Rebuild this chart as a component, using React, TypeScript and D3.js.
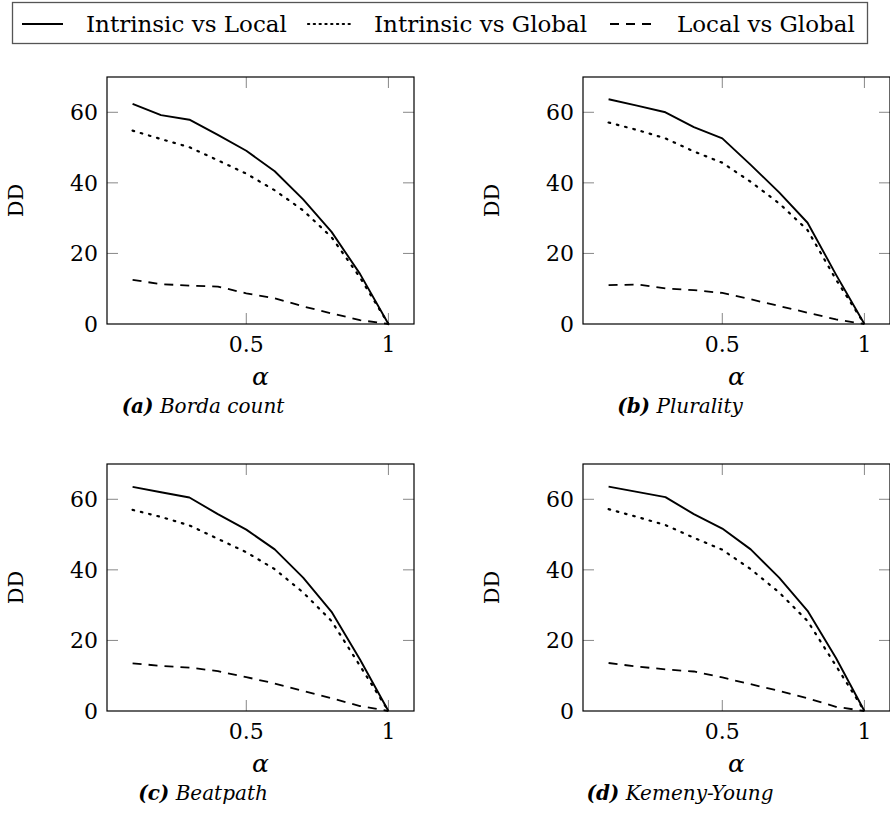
import * as d3 from "d3";

// alpha values shared by all four panels
const alphas = [0.1, 0.2, 0.3, 0.4, 0.5, 0.6, 0.7, 0.8, 0.9, 1.0];

const bordaIL = [62.4, 59.2, 57.9, 53.6, 49.1, 43.3, 35.3, 26.1, 14.2, 0];
const bordaIG = [54.8, 52.4, 50.1, 46.4, 42.6, 37.9, 32.2, 24.6, 13.2, 0];
const bordaLG = [12.5, 11.3, 10.9, 10.6, 8.7, 7.3, 5.0, 3.0, 1.1, 0];

const pluralityIL = [63.7, 61.9, 60.0, 55.8, 52.6, 45.1, 37.3, 28.7, 14.0, 0];
const pluralityIG = [57.1, 55.0, 52.6, 48.9, 45.7, 40.3, 34.2, 26.6, 12.6, 0];
const pluralityLG = [11.0, 11.2, 10.1, 9.6, 8.8, 7.0, 5.1, 3.2, 1.3, 0];

const beatpathIL = [63.5, 62.0, 60.5, 55.8, 51.4, 45.8, 37.8, 28.1, 14.6, 0];
const beatpathIG = [57.0, 55.0, 52.6, 48.8, 45.0, 40.2, 33.6, 25.5, 12.8, 0];
const beatpathLG = [13.5, 12.8, 12.3, 11.3, 9.6, 7.8, 5.7, 3.6, 1.4, 0];

const kemenyIL = [63.6, 62.1, 60.6, 55.8, 51.7, 45.8, 37.8, 28.4, 15.0, 0];
const kemenyIG = [57.2, 55.0, 52.7, 49.1, 45.7, 40.2, 33.6, 25.5, 12.8, 0];
const kemenyLG = [13.6, 12.6, 11.8, 11.2, 9.5, 7.6, 5.7, 3.6, 1.2, 0];

const seriesNames = ["Intrinsic vs Local", "Intrinsic vs Global", "Local vs Global"];
const xTicks = [0.5, 1];
const yTicks = [0, 20, 40, 60];

const panels = [
  { tag: "(a)", name: "Borda count", series: [bordaIL, bordaIG, bordaLG] },
  { tag: "(b)", name: "Plurality", series: [pluralityIL, pluralityIG, pluralityLG] },
  { tag: "(c)", name: "Beatpath", series: [beatpathIL, beatpathIG, beatpathLG] },
  { tag: "(d)", name: "Kemeny-Young", series: [kemenyIL, kemenyIG, kemenyLG] },
];

const W = 890;
const H = 823;
const FONT = "'DejaVu Serif', serif";
const FS = 22;

// line styles: solid, dotted, dashed
const dashes = [null, "1.6 6.9", "9 7"];
const widths = [1.9, 2.2, 1.8];

const plotW = 307;
const plotH = 247;
const lefts = [107, 583];
const tops = [77, 464];

function Panel({ panel, x0, y0, capX }) {
  const x = d3.scaleLinear().domain([0.01, 1.09]).range([0, plotW]);
  const y = d3.scaleLinear().domain([0, 70]).range([plotH, 0]);
  const line = d3
    .line<number>()
    .x((_, i) => x(alphas[i]))
    .y((d) => y(d));

  return (
    <g transform={`translate(${x0},${y0})`}>
      {/* ticks, inside on both sides */}
      {yTicks.slice(1).map((t) => (
        <g key={"yt" + t} stroke="#888" strokeWidth={1}>
          <line x1={0} x2={11} y1={y(t)} y2={y(t)} />
          <line x1={plotW - 11} x2={plotW} y1={y(t)} y2={y(t)} />
        </g>
      ))}
      {xTicks.map((t) => (
        <g key={"xt" + t} stroke="#888" strokeWidth={1}>
          <line x1={x(t)} x2={x(t)} y1={0} y2={11} />
          <line x1={x(t)} x2={x(t)} y1={plotH - 11} y2={plotH} />
        </g>
      ))}
      {panel.series.map((s, i) => (
        <path
          key={i}
          d={line(s) || ""}
          fill="none"
          stroke="#000"
          strokeWidth={widths[i]}
          strokeDasharray={dashes[i] || undefined}
          strokeLinecap={i === 1 ? "round" : "butt"}
          strokeLinejoin="round"
        />
      ))}
      <rect x={0} y={0} width={plotW} height={plotH} fill="none" stroke="#000" strokeWidth={1.2} />
      {yTicks.map((t) => (
        <text key={"yl" + t} x={-9} y={y(t)} dy="0.36em" textAnchor="end" fontSize={FS}>
          {t}
        </text>
      ))}
      {xTicks.map((t) => (
        <text key={"xl" + t} x={x(t)} y={plotH + 28} textAnchor="middle" fontSize={FS}>
          {t}
        </text>
      ))}
      <text x={plotW / 2} y={plotH + 61} textAnchor="middle" fontSize={FS + 3} fontStyle="italic">
        α
      </text>
      <text
        transform={`translate(${-84},${plotH / 2}) rotate(-90)`}
        textAnchor="middle"
        fontSize={FS - 1}
      >
        DD
      </text>
      <text x={capX - x0} y={plotH + 89} textAnchor="middle" fontSize={FS - 2} fontStyle="italic">
        <tspan fontWeight="bold">{panel.tag}</tspan>
        <tspan> {panel.name}</tspan>
      </text>
    </g>
  );
}

function Legend() {
  const samples = [22, 308, 610];
  const labels = [86, 374, 677];
  const ly = 24;
  return (
    <g>
      <rect x={12.5} y={2.5} width={855} height={41} fill="#fff" stroke="#555" strokeWidth={1.3} />
      {seriesNames.map((n, i) => (
        <g key={n}>
          <line
            x1={samples[i]}
            x2={samples[i] + (i === 1 ? 45 : 41)}
            y1={ly}
            y2={ly}
            stroke="#000"
            strokeWidth={widths[i]}
            strokeDasharray={i === 1 ? "1.2 4.6" : dashes[i] || undefined}
            strokeLinecap={i === 1 ? "round" : "butt"}
          />
          <text x={labels[i]} y={ly} dy="0.35em" fontSize={FS + 1}>
            {n}
          </text>
        </g>
      ))}
    </g>
  );
}

export default function App() {
  const capXs = [203, 680];
  return (
    <div style={{ position: "absolute", left: 0, top: 0, background: "#fff" }}>
      <svg width={W} height={H} fontFamily={FONT} style={{ display: "block" }}>
        <rect width={W} height={H} fill="#fff" />
        <Legend />
        {panels.map((p, i) => (
          <Panel
            key={p.tag}
            panel={p}
            x0={lefts[i % 2]}
            y0={tops[Math.floor(i / 2)]}
            capX={capXs[i % 2]}
          />
        ))}
      </svg>
    </div>
  );
}
